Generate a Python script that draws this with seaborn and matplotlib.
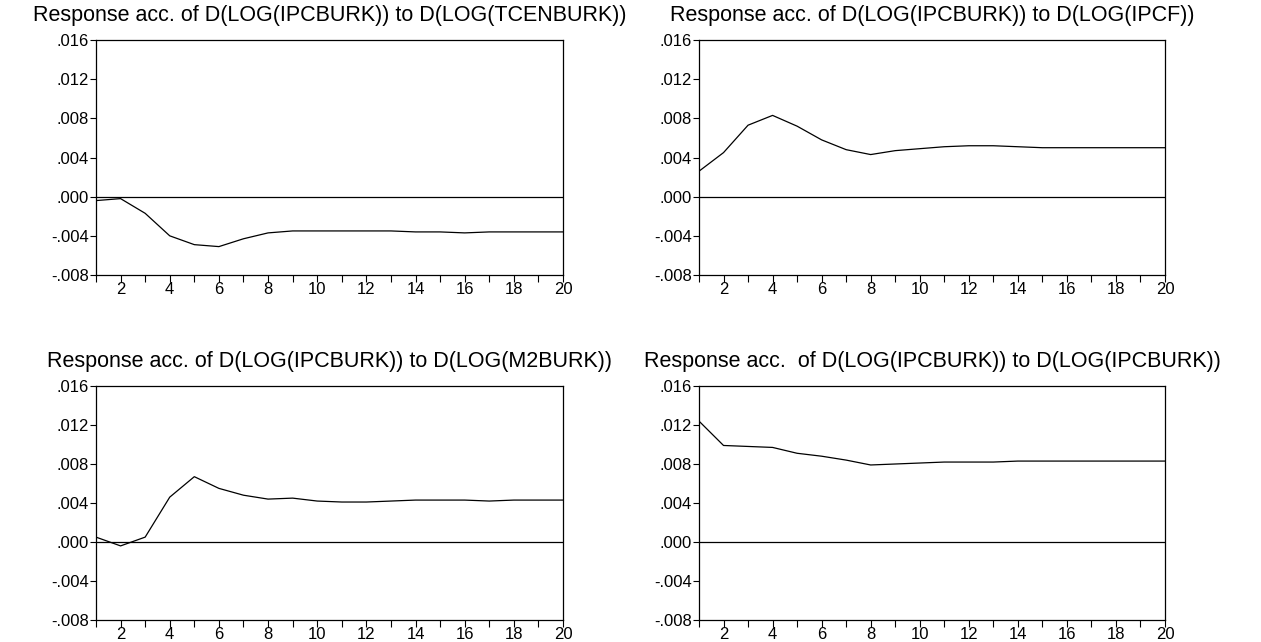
import matplotlib
matplotlib.use("Agg")
import matplotlib.pyplot as plt
from matplotlib.ticker import FixedLocator, FuncFormatter
import numpy as np
import pandas as pd
import seaborn as sns

# Accumulated impulse responses of D(LOG(IPCBURK)), periods 1..20
periods = list(range(1, 21))

resp_tcenburk = [-0.0004, -0.0002, -0.0017, -0.0040, -0.0049, -0.0051, -0.0043, -0.0037,
                 -0.0035, -0.0035, -0.0035, -0.0035, -0.0035, -0.0036, -0.0036, -0.0037,
                 -0.0036, -0.0036, -0.0036, -0.0036]
resp_ipcf = [0.0026, 0.0045, 0.0073, 0.0083, 0.0072, 0.0058, 0.0048, 0.0043,
             0.0047, 0.0049, 0.0051, 0.0052, 0.0052, 0.0051, 0.0050, 0.0050,
             0.0050, 0.0050, 0.0050, 0.0050]
resp_m2burk = [0.0005, -0.0004, 0.0005, 0.0046, 0.0067, 0.0055, 0.0048, 0.0044,
               0.0045, 0.0042, 0.0041, 0.0041, 0.0042, 0.0043, 0.0043, 0.0043,
               0.0042, 0.0043, 0.0043, 0.0043]
resp_ipcburk = [0.0124, 0.0099, 0.0098, 0.0097, 0.0091, 0.0088, 0.0084, 0.0079,
                0.0080, 0.0081, 0.0082, 0.0082, 0.0082, 0.0083, 0.0083, 0.0083,
                0.0083, 0.0083, 0.0083, 0.0083]

titles = [
    "Response acc. of D(LOG(IPCBURK)) to D(LOG(TCENBURK))",
    "Response acc. of D(LOG(IPCBURK)) to D(LOG(IPCF))",
    "Response acc. of D(LOG(IPCBURK)) to D(LOG(M2BURK))",
    "Response acc.  of D(LOG(IPCBURK)) to D(LOG(IPCBURK))",
]
series = [resp_tcenburk, resp_ipcf, resp_m2burk, resp_ipcburk]

y_ticks = [-0.008, -0.004, 0.000, 0.004, 0.008, 0.012, 0.016]
x_label_ticks = [2, 4, 6, 8, 10, 12, 14, 16, 18, 20]

sns.set_style("white")
plt.rcParams["font.family"] = ["Liberation Sans", "DejaVu Sans"]

W, H = 1261, 642
fig = plt.figure(figsize=(W / 100, H / 100), dpi=100)
fig.patch.set_facecolor("white")

# panel boxes in pixels: (left, top, right, bottom)
boxes = [(96, 40, 563, 275), (699, 40, 1165, 275),
         (96, 386, 563, 620), (699, 386, 1165, 620)]


def fmt_y(v, _pos):
    s = f"{v:.3f}"
    return s.replace("0.", ".", 1)


for (l, t, r, b), ttl, vals in zip(boxes, titles, series):
    ax = fig.add_axes([l / W, 1 - b / H, (r - l) / W, (b - t) / H])
    df = pd.DataFrame({"period": periods, "response": vals})
    sns.lineplot(data=df, x="period", y="response", ax=ax, color="black", linewidth=0.9)
    ax.axhline(0, color="black", linewidth=0.9)
    ax.set_xlim(1, 20)
    ax.set_ylim(-0.008, 0.016)
    ax.set_xlabel("")
    ax.set_ylabel("")
    ax.xaxis.set_major_locator(FixedLocator(periods))
    ax.xaxis.set_major_formatter(FuncFormatter(lambda v, p: f"{int(v)}" if int(v) in x_label_ticks else ""))
    ax.yaxis.set_major_locator(FixedLocator(y_ticks))
    ax.yaxis.set_major_formatter(FuncFormatter(fmt_y))
    ax.tick_params(axis="x", direction="out", length=5, width=0.8, pad=0, labelsize=12, colors="black")
    ax.tick_params(axis="y", direction="out", length=4, width=0.8, pad=1, labelsize=12, colors="black")
    ax.tick_params(bottom=True, left=True, top=False, right=False)
    for sp in ax.spines.values():
        sp.set_visible(True)
        sp.set_color("black")
        sp.set_linewidth(0.9)
    ax.set_title(ttl, fontsize=15.5, pad=14, color="black")

fig.savefig("out.png", dpi=100, facecolor="white")
